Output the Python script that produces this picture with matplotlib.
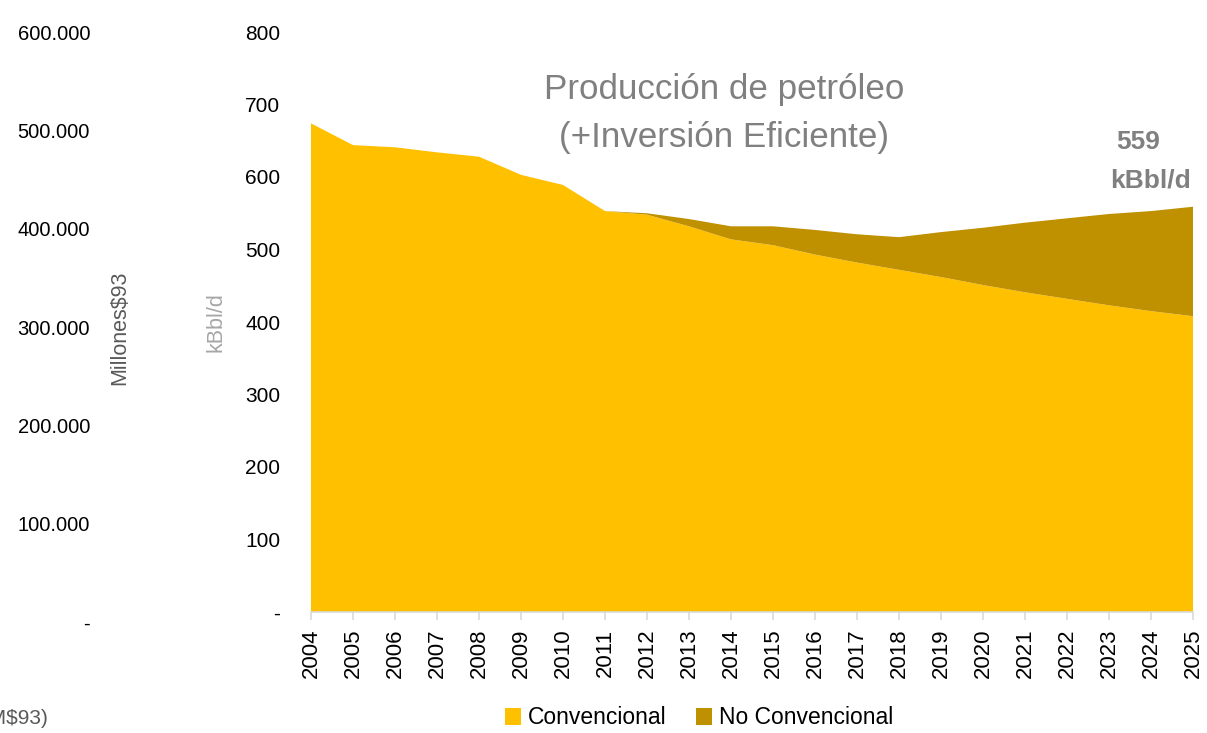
import matplotlib.pyplot as plt
from matplotlib.patches import Patch
from matplotlib.ticker import FuncFormatter

plt.rcParams['font.family'] = ['Liberation Sans', 'DejaVu Sans']

# datos (kBbl/d)
years = [str(y) for y in range(2004, 2026)]
convencional = [674, 644, 641, 634, 628, 603, 589, 553, 548, 532, 514,
                506, 493, 482, 472, 462, 451, 441, 432, 423, 415, 408]
no_convencional = [0, 0, 0, 0, 0, 0, 0, 0, 2, 10, 18,
                   26, 34, 39, 45, 62, 79, 96, 111, 126, 138, 151]
ghost_ticks = [0, 100000, 200000, 300000, 400000, 500000, 600000]

c_conv = '#FFC000'
c_noconv = '#BF9000'
gray = '#808080'

W, H = 1207, 733
fig = plt.figure(figsize=(W / 100, H / 100), dpi=100)

# main axes (kBbl/d)
ax = fig.add_axes([311 / W, 1 - 612 / H, (1193 - 311) / W, (612 - 32) / H])
x = list(range(len(years)))
ax.stackplot(x, convencional, no_convencional, colors=[c_conv, c_noconv],
             linewidth=0)
ax.set_xlim(0, len(years) - 1)
ax.set_ylim(0, 800)
ax.set_yticks(range(0, 801, 100))
ax.yaxis.set_major_formatter(FuncFormatter(lambda v, p: '-' if v == 0 else f'{int(v)}'))
ax.set_xticks(x)
ax.set_xticklabels(years, rotation=90)
for s in ['top', 'right', 'left']:
    ax.spines[s].set_visible(False)
ax.spines['bottom'].set_color('#d9d9d9')
ax.spines['bottom'].set_linewidth(1.2)
ax.tick_params(axis='y', length=0, pad=22, labelsize=15)
ax.tick_params(axis='x', length=6, width=1.2, color='#d9d9d9', pad=6, labelsize=16)

# leftover secondary axis (Millones$93)
ax2 = fig.add_axes([90 / W, 1 - 622 / H, 0.001, (622 - 32) / H])
ax2.set_ylim(0, 600000)
ax2.set_yticks(ghost_ticks)
ax2.yaxis.set_major_formatter(FuncFormatter(
    lambda v, p: '-' if v == 0 else f'{int(v):,}'.replace(',', '.')))
ax2.set_xticks([])
for s in ax2.spines.values():
    s.set_visible(False)
ax2.tick_params(axis='y', length=0, pad=0, labelsize=14.5)
ax2.patch.set_visible(False)

fig.text(120 / W, 1 - 328 / H, 'Millones$93', rotation=90, ha='center', va='center',
         fontsize=15.5, color='#595959')
fig.text(216 / W, 1 - 322 / H, 'kBbl/d', rotation=90, ha='center', va='center',
         fontsize=15.5, color='#a6a6a6')
fig.text(48 / W, 1 - 718 / H, 'Inversión (M$93)', ha='right', va='center',
         fontsize=15, color='#595959')

# titulo y anotacion
fig.text(724 / W, 1 - 90 / H, 'Producción de petróleo', ha='center', va='center',
         fontsize=25.2, color=gray)
fig.text(724 / W, 1 - 137 / H, '(+Inversión Eficiente)', ha='center', va='center',
         fontsize=25.2, color=gray)
fig.text(1138 / W, 1 - 142 / H, '559', ha='center', va='center',
         fontsize=19, fontweight='bold', color=gray)
fig.text(1150 / W, 1 - 181 / H, 'kBbl/d', ha='center', va='center',
         fontsize=19, fontweight='bold', color=gray)

handles = [Patch(facecolor=c_conv, label='Convencional'),
           Patch(facecolor=c_noconv, label='No Convencional')]
fig.legend(handles=handles, loc='center', bbox_to_anchor=(699 / W, 1 - 718 / H),
           ncol=2, frameon=False, fontsize=16.5, handlelength=0.7, handleheight=0.7,
           handletextpad=0.3, columnspacing=1.3, borderpad=0)

fig.savefig('out.png', dpi=100)
